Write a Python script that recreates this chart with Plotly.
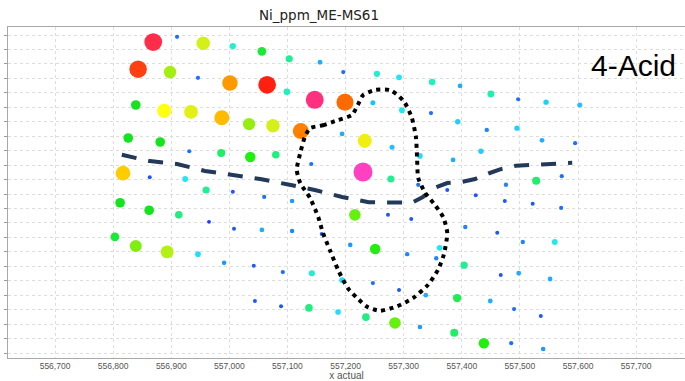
import numpy as np
import plotly.graph_objects as go

# ---------------- data ----------------
east = [556869, 556910, 556955, 557006, 557056, 557103, 557156, 557196, 557254, 557292, 557349, 557397, 557450, 557497, 557545, 557603,
        556843, 556898, 556946, 557001, 557065, 557099, 557147, 557199, 557247, 557297, 557347, 557393, 557443, 557495, 557538, 557595,
        556839, 556888, 556934, 556987, 557034, 557075, 557123, 557194, 557233, 557280, 557328, 557385, 557433,
        556826, 556881, 556931, 556986, 557036, 557080, 557141,
        556817, 556863, 556924, 556960, 557006, 557060, 557108, 557230, 557278, 557325, 557375, 557424, 557476, 557528, 557572,
        556812, 556862, 556913, 556965, 557008, 557056, 557108, 557159, 557216, 557273, 557313, 557474, 557522, 557571,
        556803, 556839, 556893, 556946, 556991, 557042, 557092, 557142, 557194, 557247, 557292, 557338, 557392, 557449, 557490, 557536,
        557208, 557251, 557306, 557362, 557356, 557406, 557461, 557505, 557560, 557404, 557467, 557498, 557552,
        557044, 557089, 557137, 557187, 557235, 557285, 557328, 557387, 557438, 557485, 557540]
north = [538, 547, 536, 531, 522, 509, 503, 486, 483, 477, 469, 462, 448, 439, 434, 429,
         491, 486, 476, 467, 464, 452, 438, 434, 433, 420, 415, 400, 386, 389, 368, 363,
         429, 419, 417, 407, 396, 393, 384, 379, 367, 356, 341, 334, 349,
         372, 365, 349, 346, 339, 343, 327,
         311, 304, 301, 282, 279, 270, 263, 313, 301, 291, 282, 273, 291, 298, 306,
         260, 247, 239, 227, 215, 213, 211, 206, 239, 239, 232, 263, 258, 251,
         201, 185, 175, 171, 156, 151, 140, 138, 126, 121, 109, 100, 95, 90, 76, 64,
         187, 180, 171, 182, 164, 218, 208, 192, 192, 152, 135, 138, 128,
         90, 81, 78, 71, 62, 52, 45, 35, 17, 17, 7]
ni_ppm = [48, 6, 33, 15, 22, 18, 9, 6, 15, 13, 16, 9, 17, 6, 11, 10,
          45, 30, 6, 40, 46, 16, 52, 43, 10, 13, 6, 11, 7, 11, 9, 6,
          23, 36, 34, 38, 29, 33, 41, 9, 35, 10, 12, 9, 11,
          23, 23, 6, 20, 24, 19, 6,
          37.5, 5, 13, 18, 5, 6, 8, 55, 18, 6, 5, 5, 7, 20, 6,
          23, 23, 19, 4, 5, 9, 7, 5, 27, 5, 5, 5, 5, 6,
          22, 28, 31, 12, 8, 5, 6, 15, 12, 6, 5, 9, 21, 9, 6, 5,
          8, 24, 7, 13, 7, 7, 5, 7, 13, 18, 5, 9, 9,
          5, 5, 19, 12, 19, 27, 8, 20, 24, 6, 8]

dash_east = [556815, 556863, 556910, 556958, 557006, 557053, 557099, 557147, 557194, 557240, 557314,
             557333, 557356, 557375, 557400, 557423, 557447, 557467, 557493, 557516, 557590]
dash_north = [343, 332, 327, 315, 308, 301, 292, 282, 270, 261, 260,
              270, 287, 294, 296, 301, 311, 318, 324, 325, 329]

loop_east = [557139, 557161, 557187, 557211, 557221, 557230, 557251, 557276, 557290, 557302, 557314,
             557321, 557323, 557325, 557337, 557354, 557368, 557375, 557369, 557359, 557342, 557316,
             557289, 557259, 557237, 557220, 557204, 557187, 557173, 557161, 557153, 557139, 557122,
             557116, 557122, 557130, 557139]
loop_north = [389, 394, 403, 412, 429, 446, 455, 455, 446, 433, 407,
              374, 339, 303, 277, 256, 235, 208, 170, 144, 118, 95,
              81, 73, 80, 95, 112, 144, 178, 208, 235, 268, 294,
              317, 346, 374, 389]

x_ticks = [556700, 556800, 556900, 557000, 557100, 557200, 557300, 557400, 557500, 557600, 557700]
x_tick_labels = ["556,700", "556,800", "556,900", "557,000", "557,100", "557,200",
                 "557,300", "557,400", "557,500", "557,600", "557,700"]

# ---------------- styling ----------------
stops = [(4, "#1a3cff"), (6, "#1f6fff"), (8, "#2098ff"), (10, "#20bfff"), (12, "#20dcff"),
         (13, "#20e8f0"), (15, "#20f0d0"), (17, "#20f0a8"), (19, "#20ee80"), (21, "#20ee50"),
         (23, "#14e41e"), (24, "#22ee10"), (27, "#66f010"), (29, "#96ee10"), (31, "#b4f010"),
         (33, "#d4f018"), (35, "#f0f010"), (36, "#ffff10"), (37.5, "#ffcc00"), (38, "#ffbb00"),
         (40, "#ff9900"), (41, "#ff8000"), (43, "#ff6a00"), (45, "#ff4010"), (46, "#ff2010"),
         (48, "#ff2d4a"), (52, "#ff3080"), (55, "#ff40c0")]
cmin, cmax = 4, 55
colorscale = [[(v - cmin) / (cmax - cmin), c] for v, c in stops]

size_ni = [4, 6, 9, 12, 15, 18, 22, 24, 28, 33, 36, 40, 43, 46, 52, 55]
size_px = [3.8, 4.2, 4.8, 5.6, 6.2, 7.2, 8.8, 10.5, 12, 13.5, 14.3, 15.5, 17, 17.7, 18, 19]
sizes = np.interp(ni_ppm, size_ni, size_px)

order = np.argsort(ni_ppm, kind="stable")
ex = np.array(east)[order]
ny = np.array(north)[order]
nv = np.array(ni_ppm)[order]
sz = sizes[order]

fig = go.Figure()
fig.add_trace(go.Scatter(
    x=ex, y=ny, mode="markers",
    marker=dict(size=sz, color=nv, colorscale=colorscale, cmin=cmin, cmax=cmax,
                line=dict(width=0), opacity=1),
    hoverinfo="skip", showlegend=False))
fig.add_trace(go.Scatter(
    x=dash_east, y=dash_north, mode="lines",
    line=dict(color="#22395a", width=4, dash="15px,12px"),
    hoverinfo="skip", showlegend=False))
fig.add_trace(go.Scatter(
    x=loop_east, y=loop_north, mode="lines",
    line=dict(color="#000000", width=4, dash="4px,4.5px", shape="spline", smoothing=0.6),
    hoverinfo="skip", showlegend=False))

fig.update_layout(
    width=685, height=381,
    margin=dict(l=8, r=0, t=27, b=23),
    paper_bgcolor="white", plot_bgcolor="white",
    font=dict(family="Liberation Sans, Arial, sans-serif", color="#555555"),
    title=dict(text="Ni_ppm_ME-MS61", x=319 / 685, xref="container", xanchor="center",
               y=1 - 15 / 381, yref="container", yanchor="middle",
               font=dict(family="DejaVu Sans, sans-serif", size=13.5, color="#222222")),
    xaxis=dict(range=[556619.1, 557784.1], tickmode="array", tickvals=x_ticks, ticktext=x_tick_labels,
               tickfont=dict(size=8.5, color="#555555"), ticks="", showgrid=True,
               gridcolor="#dddddd", griddash="dot", gridwidth=1, zeroline=False,
               showline=True, linecolor="#a8a8a8", linewidth=1, mirror=True,
               title=dict(text="x actual", font=dict(size=10, color="#555555"), standoff=2)),
    yaxis=dict(range=[-8.65, 564], tick0=0, dtick=25, showticklabels=False, ticks="outside",
               ticklen=3, tickcolor="#999999", showgrid=True, gridcolor="#dddddd", griddash="dot",
               gridwidth=1, zeroline=False, showline=True, linecolor="#a8a8a8", linewidth=1),
    annotations=[dict(text="4-Acid", xref="paper", yref="paper", x=(633 - 8) / 677, y=(358 - 65) / 331,
                      xanchor="center", yanchor="middle", showarrow=False,
                      font=dict(family="Liberation Sans, Arial, sans-serif", size=30, color="#000000"))],
)

fig.write_html("out.html", config={"displayModeBar": False},
               post_script="document.body.style.margin='0px';document.body.style.overflow='hidden';")
